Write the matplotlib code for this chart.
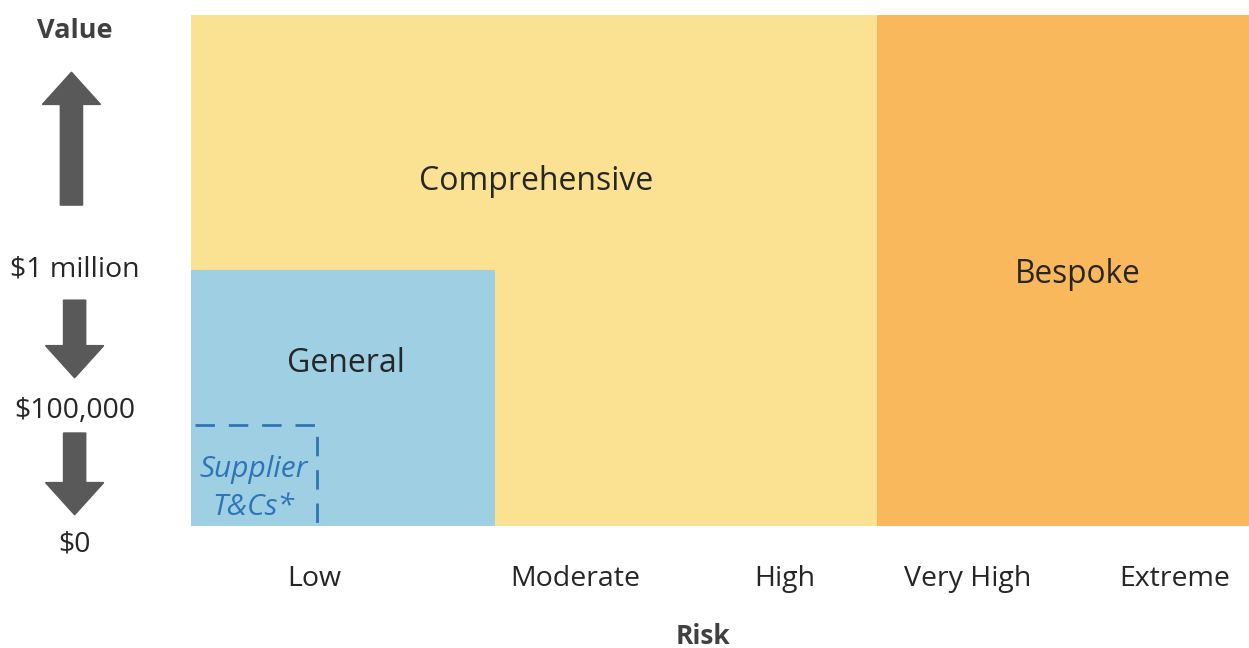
import matplotlib.pyplot as plt
from matplotlib.patches import Rectangle, FancyArrow

# risk axis runs 0-100 across the plot, value axis 0-100 from $0 to the top
risk_labels = ["Low", "Moderate", "High", "Very High", "Extreme"]
risk_ticks = [11.7, 36.3, 56.1, 73.4, 93.0]

value_labels = ["$1 million", "$100,000", "$0"]
value_levels = [50.1, 22.6, -3.7]

regions = ["Comprehensive", "General", "Bespoke"]
region_x = [(0, 64.8), (0, 28.7), (64.8, 100)]
region_y = [(0, 100), (0, 50.1), (0, 100)]
region_colors = ["#FBE192", "#9ECFE3", "#F9B85B"]
region_text_xy = [(32.6, 67.5), (14.6, 31.8), (83.8, 49.3)]
region_font = [23, 23, 22.8]

supplier_x = (0.4, 11.9)
supplier_y = 19.8

TEXT = "#262626"
ARROW = "#595959"
FONT = ["Open Sans", "DejaVu Sans"]


def main():
    plt.rcParams["font.family"] = FONT
    fig = plt.figure(figsize=(12.49, 6.48), dpi=100)
    ax = fig.add_axes([191 / 1249, 122 / 648, 1058 / 1249, 511 / 648])
    ax.set_xlim(0, 100)
    ax.set_ylim(0, 100)

    for name, xs, ys, color, (tx, ty), fs in zip(regions, region_x, region_y,
                                                  region_colors, region_text_xy,
                                                  region_font):
        ax.add_patch(Rectangle((xs[0], ys[0]), xs[1] - xs[0], ys[1] - ys[0],
                               facecolor=color, edgecolor="none"))
        ax.text(tx, ty, name, ha="center", va="center", fontsize=fs, color=TEXT)

    # supplier T&Cs dashed corner
    ax.plot([supplier_x[0], supplier_x[1], supplier_x[1]],
            [supplier_y, supplier_y, 0], color="#2E75B6", lw=2,
            dashes=(7, 5), solid_capstyle="butt")
    ax.text(5.9, 11.1, "Supplier", ha="center", va="center", fontsize=21.5,
            style="italic", color="#2E75B6")
    ax.text(5.9, 3.7, "T&Cs*", ha="center", va="center", fontsize=21.5,
            style="italic", color="#2E75B6")

    ax.set_xticks(risk_ticks)
    ax.set_xticklabels(risk_labels, fontsize=20.5, color=TEXT)
    ax.tick_params(axis="x", length=0, pad=28)
    ax.set_yticks([])
    for s in ax.spines.values():
        s.set_visible(False)
    ax.text(48.4, -21.6, "Risk", ha="center", va="center", fontsize=19,
            fontweight="bold", color="#404040", clip_on=False)

    # value side labels and arrows
    lx = -11.0
    ax.text(lx, 96.9, "Value", ha="center", va="center", fontsize=19.5,
            fontweight="bold", color="#404040", clip_on=False)
    for lab, lev in zip(value_labels, value_levels):
        ax.text(lx, lev, lab, ha="center", va="center", fontsize=20.5,
                color=TEXT, clip_on=False)

    arrows = [(-11.3, 62.8, 26.0), (-11.0, 44.2, -15.2), (-11.0, 18.2, -16.0)]
    for x0, y0, dy in arrows:
        ax.add_patch(FancyArrow(x0, y0, 0, dy, width=2.1, head_width=5.5,
                                head_length=6.3, length_includes_head=True,
                                color=ARROW, clip_on=False))

    fig.savefig("out.png", dpi=100)


if __name__ == "__main__":
    main()
